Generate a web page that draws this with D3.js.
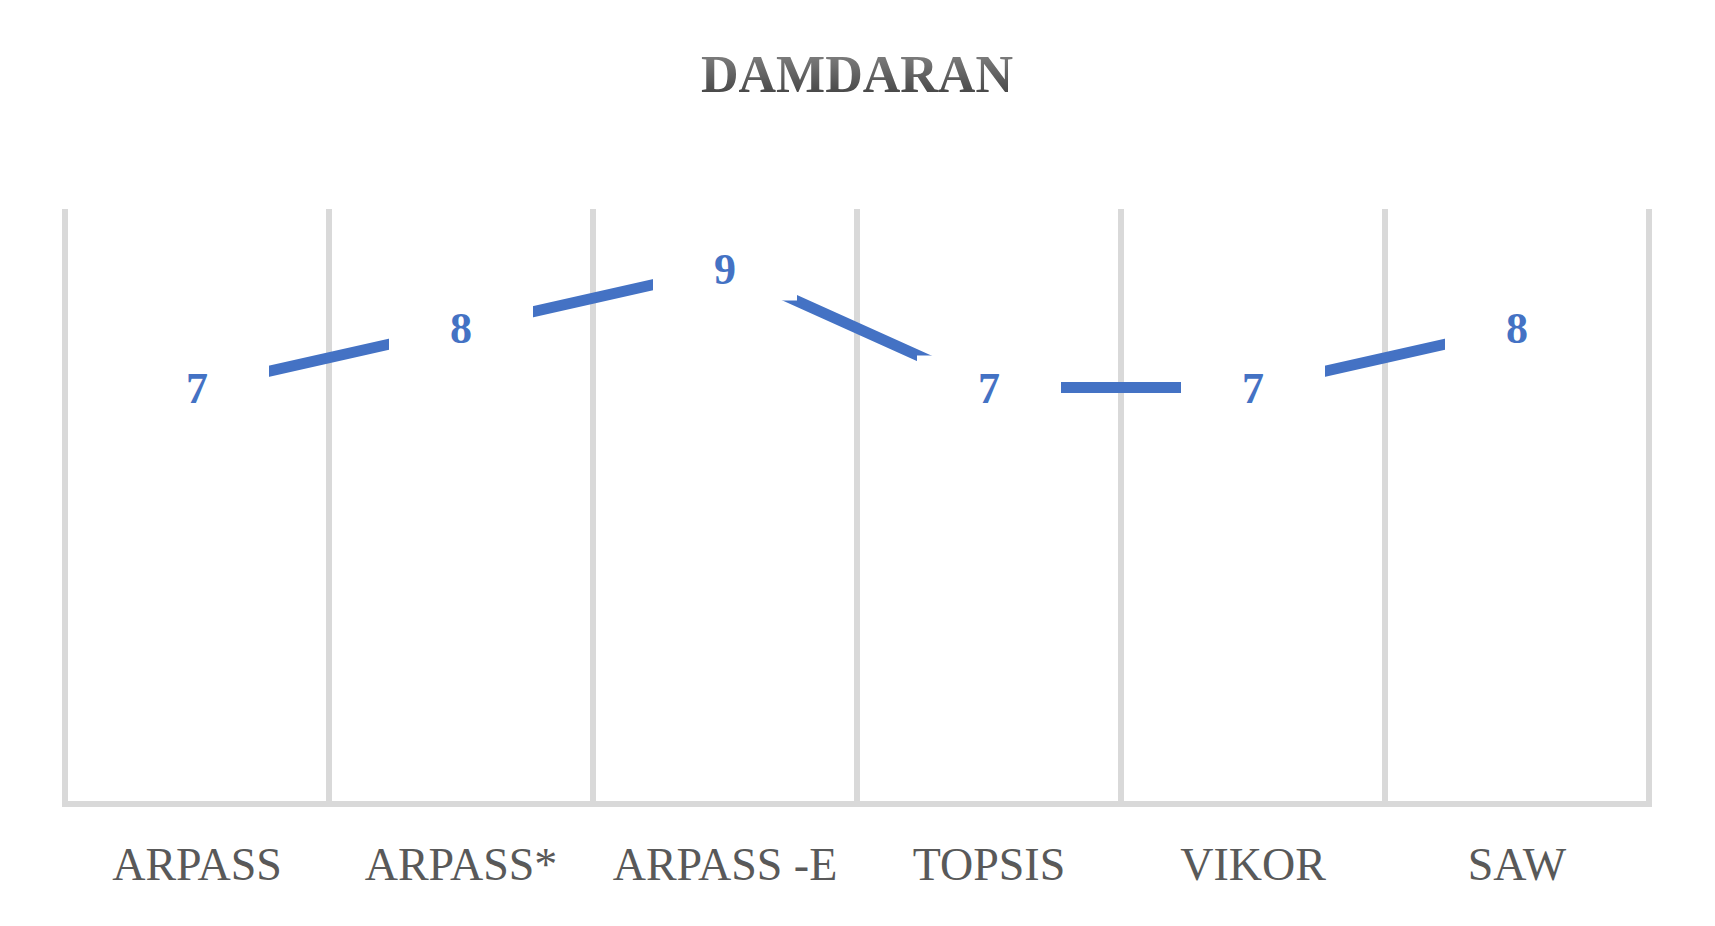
<!DOCTYPE html>
<html><head><meta charset="utf-8">
<script src="https://cdn.jsdelivr.net/npm/d3@7"></script>
<style>body{margin:0;background:#fff}</style></head>
<body><svg id="c" width="1715" height="926"></svg>
<script>
const categories = ["ARPASS","ARPASS*","ARPASS -E","TOPSIS","VIKOR","SAW"];
const values = [7,8,9,7,7,8];
const title = "DAMDARAN";

const svg = d3.select("#c");
const L=65,R=1649,T=209,B=804;
const x = d3.scaleBand().domain(categories).range([L,R]);
const y = d3.scaleLinear().domain([0,10]).range([B,T]);
const cx = d => x(d)+x.bandwidth()/2;

const defs = svg.append("defs");
const g = defs.append("linearGradient").attr("id","tg").attr("x1",0).attr("y1",0).attr("x2",0).attr("y2",1);
g.append("stop").attr("offset","0").attr("stop-color","#8a8a8a");
g.append("stop").attr("offset","1").attr("stop-color","#3a3a3a");

svg.append("text").attr("x",(L+R)/2).attr("y",92).attr("text-anchor","middle")
  .attr("font-family","Liberation Serif").attr("font-weight","bold").attr("font-size",52)
  .attr("fill","url(#tg)").text(title);

const gl = [...categories.map(c=>x(c)), R];
svg.selectAll(".gl").data(gl).enter().append("line")
  .attr("x1",d=>d).attr("x2",d=>d).attr("y1",T).attr("y2",B)
  .attr("stroke","#d9d9d9").attr("stroke-width",6);
svg.append("line").attr("x1",L-3).attr("x2",R+3).attr("y1",B).attr("y2",B)
  .attr("stroke","#d9d9d9").attr("stroke-width",6);

svg.selectAll(".cl").data(categories).enter().append("text")
  .attr("x",cx).attr("y",880).attr("text-anchor","middle")
  .attr("font-family","Liberation Serif").attr("font-size",46).attr("fill","#595959").text(d=>d);

const pts = categories.map((c,i)=>[cx(c),y(values[i])]);
svg.append("path").attr("d",d3.line()(pts)).attr("fill","none")
  .attr("stroke","#4472c4").attr("stroke-width",11);

svg.selectAll(".bg").data(pts).enter().append("rect")
  .attr("x",d=>d[0]-72).attr("y",d=>d[1]-32).attr("width",144).attr("height",64).attr("fill","#fff");
svg.selectAll(".dl").data(pts).enter().append("text")
  .attr("x",d=>d[0]).attr("y",d=>d[1]+15).attr("text-anchor","middle")
  .attr("font-family","Liberation Serif").attr("font-weight","bold").attr("font-size",44)
  .attr("fill","#4472c4").text((d,i)=>values[i]);
</script></body></html>
